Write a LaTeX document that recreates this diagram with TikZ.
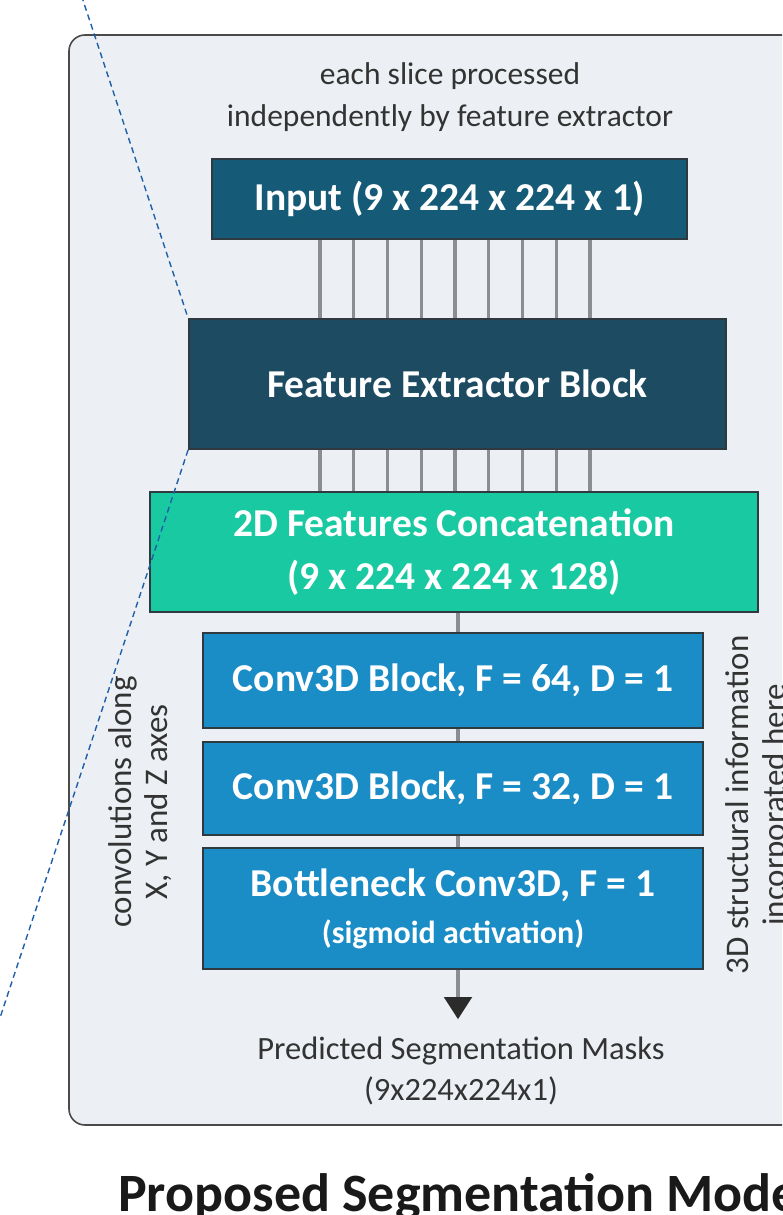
\documentclass[tikz,border=0pt]{standalone}
\usepackage{fontspec}
\setmainfont{Carlito}
\usetikzlibrary{arrows.meta}
\definecolor{framefill}{HTML}{ECF0F4}
\definecolor{framedraw}{HTML}{4A4A4A}
\definecolor{inputc}{HTML}{155B77}
\definecolor{featc}{HTML}{1C4B62}
\definecolor{concatc}{HTML}{19C9A1}
\definecolor{convc}{HTML}{1A8CC6}
\definecolor{boxborder}{HTML}{2E3A40}
\definecolor{slicec}{HTML}{8A8E93}
\definecolor{textc}{HTML}{333333}
\definecolor{zoomc}{HTML}{1F5FA8}
\tikzset{
  blockbox/.style={draw=boxborder, line width=1.8pt, text=white, inner sep=0pt, align=center, font=\fontsize{39.5}{53}\selectfont\bfseries},
  slice/.style={draw=slicec, line width=3.2pt},
  flow/.style={draw=slicec, line width=3.2pt},
  plain/.style={text=textc, inner sep=0pt, align=center},
  zoomline/.style={draw=zoomc, line width=1.4pt, dash pattern=on 6pt off 4pt},
}
\begin{document}
\begin{tikzpicture}[x=1pt,y=-1pt]
\useasboundingbox (0,0) rectangle (782,1215);
\clip (0,0) rectangle (782,1215);
\fill[white] (0,0) rectangle (782,1215);
\draw[fill=framefill, draw=framedraw, line width=1.6pt, rounded corners=16pt] (69,35) rectangle (840,1125);

\node[plain, font=\fontsize{31.5}{42}\selectfont] (top) at (450,97) {each slice processed\\independently by feature extractor};

\node[blockbox, fill=inputc, minimum width=475pt, minimum height=80pt] (in) at (449.5,199) {Input (9 x 224 x 224 x 1)};
\node[blockbox, fill=featc, minimum width=537pt, minimum height=130pt] (fe) at (457.5,384) {Feature Extractor Block};
\node[blockbox, fill=concatc, minimum width=608pt, minimum height=120pt] (cc) at (454,552) {2D Features Concatenation\\(9 x 224 x 224 x 128)};
\node[blockbox, fill=convc, minimum width=500pt, minimum height=95pt] (c1) at (453,680.5) {Conv3D Block, F = 64, D = 1};
\node[blockbox, fill=convc, minimum width=500pt, minimum height=93pt] (c2) at (453,788.5) {Conv3D Block, F = 32, D = 1};
\node[blockbox, fill=convc, minimum width=500pt, minimum height=121pt] (bn) at (453,908.5) {Bottleneck Conv3D, F = 1\\[-6pt]{\fontsize{32}{40}\selectfont (sigmoid activation)}};

\foreach \x in {320,353.75,387.5,421.25,455,488.75,522.5,556.25,590} {
  \draw[slice] (in.south -| \x,0) -- (fe.north -| \x,0);
  \draw[slice] (fe.south -| \x,0) -- (cc.north -| \x,0);
}

\coordinate (tip) at (458,1019);
\draw[flow] (cc.south -| 458,0) -- (c1.north -| 458,0);
\draw[flow] (c1.south -| 458,0) -- (c2.north -| 458,0);
\draw[flow] (c2.south -| 458,0) -- (bn.north -| 458,0);
\draw[flow, -{Triangle[width=28pt,length=22pt]}, color=slicec] (bn.south -| 458,0) -- (tip);
\fill[textc!85!black] (444,997) -- (472,997) -- (tip) -- cycle;

\node[plain, font=\fontsize{32.5}{41}\selectfont] (out) at (461,1071) {Predicted Segmentation Masks\\(9x224x224x1)};

\node[plain, rotate=90, font=\fontsize{33}{36}\selectfont] (left) at (140,802) {convolutions along\\X, Y and Z axes};
\node[plain, rotate=90, font=\fontsize{33}{37}\selectfont] (right) at (758,805) {3D structural information\\incorporated here};

\node[anchor=base west, inner sep=0pt, text=black!90, font=\fontsize{54}{60}\selectfont\bfseries] (title) at (118,1211) {Proposed Segmentation Model};

\coordinate (ztop) at (72,-33);
\coordinate (zbot) at (-12,1054);
\draw[zoomline] (ztop) -- (fe.north west);
\draw[zoomline] (fe.south west) -- (zbot);
\end{tikzpicture}
\end{document}
